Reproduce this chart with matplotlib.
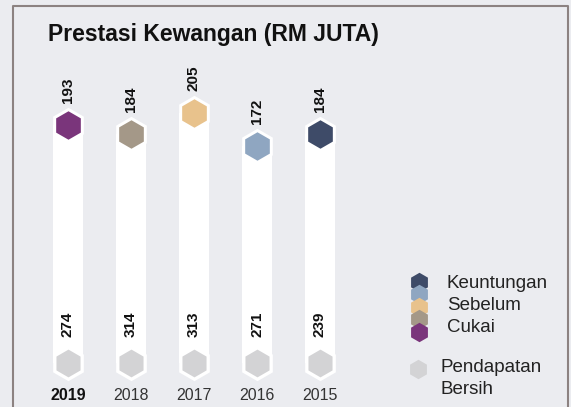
import matplotlib.pyplot as plt
from matplotlib.lines import Line2D

plt.rcParams['font.family'] = ['Liberation Sans', 'DejaVu Sans']

years = ['2019', '2018', '2017', '2016', '2015']
profit_before_tax = [193, 184, 205, 172, 184]
net_revenue = [274, 314, 313, 271, 239]
hex_colors = ['#7a357b', '#a49888', '#e8c28c', '#8fa6c1', '#3e4b68']
legend_labels = ['Keuntungan', 'Sebelum', 'Cukai']
legend_stack = ['#3e4b68', '#8fa6c1', '#e8c28c', '#a49888', '#7a357b']

bg = '#ebecf0'
base = -45  # fixed position of the bottom (revenue) hexagons

fig = plt.figure(figsize=(5.71, 4.07), dpi=100, facecolor=bg)
ax = fig.add_axes([0, 0, 1, 1])
ax.set_facecolor(bg)
ax.set_xlim(-68 / 63, (571 - 68) / 63)
ax.set_ylim(-89, 318)
ax.axis('off')

x = list(range(len(years)))

# white columns with hexagon caps
ax.bar(x, [v - base for v in profit_before_tax], bottom=base, width=0.49,
       color='white', zorder=1)
ax.plot(x, profit_before_tax, 'h', ms=25.5, color='white', mec='none', zorder=2)
ax.plot(x, [base] * len(x), 'h', ms=25.5, color='white', mec='none', zorder=2)

for i in x:
    ax.plot(i, profit_before_tax[i], 'h', ms=20.5, color=hex_colors[i], mec='none', zorder=3)
    ax.plot(i, base, 'h', ms=20, color='#d3d3d5', mec='none', zorder=3)
    ax.annotate(str(profit_before_tax[i]), (i, profit_before_tax[i]), xytext=(0, 16),
                textcoords='offset points', rotation=90, ha='center', va='bottom',
                fontsize=11, fontweight='bold', color='#111111')
    ax.annotate(str(net_revenue[i]), (i, base), xytext=(0, 18.7),
                textcoords='offset points', rotation=90, ha='center', va='bottom',
                fontsize=11, fontweight='bold', color='#111111')
    ax.text(i, -78, years[i], ha='center', va='center', fontsize=11.5,
            fontweight='bold' if i == 0 else 'normal',
            color='#111111' if i == 0 else '#333333')

# title
fig.text(48 / 571, 1 - 41 / 407, 'Prestasi Kewangan (RM JUTA)', ha='left',
         va='baseline', fontsize=16.5, fontweight='bold', color='#111111')

# legend
def fx(px):
    return px / 571

def fy(py):
    return 1 - py / 407

for k, c in enumerate(legend_stack):
    fig.add_artist(Line2D([fx(418.5)], [fy(281.5 + 12.5 * k)], marker='h', ms=14,
                          color=c, mec='none', linestyle='none'))
for k, lab in enumerate(legend_labels):
    fig.text(fx(447), fy(283 + 22 * k), lab, ha='left', va='center',
             fontsize=13.5, color='#222222')
fig.add_artist(Line2D([fx(418)], [fy(369)], marker='h', ms=14, color='#d3d3d5',
                      mec='none', linestyle='none'))
fig.text(fx(441), fy(367.5), 'Pendapatan', ha='left', va='center', fontsize=13.5, color='#222222')
fig.text(fx(441), fy(389), 'Bersih', ha='left', va='center', fontsize=13.5, color='#222222')

# frame (top, left, right)
border = '#8c8281'
fig.add_artist(Line2D([fx(13), fx(13), fx(567.5), fx(567.5)], [0, fy(6), fy(6), 0],
                      color=border, lw=1.5))

fig.savefig('out.png', dpi=100, facecolor=bg)
